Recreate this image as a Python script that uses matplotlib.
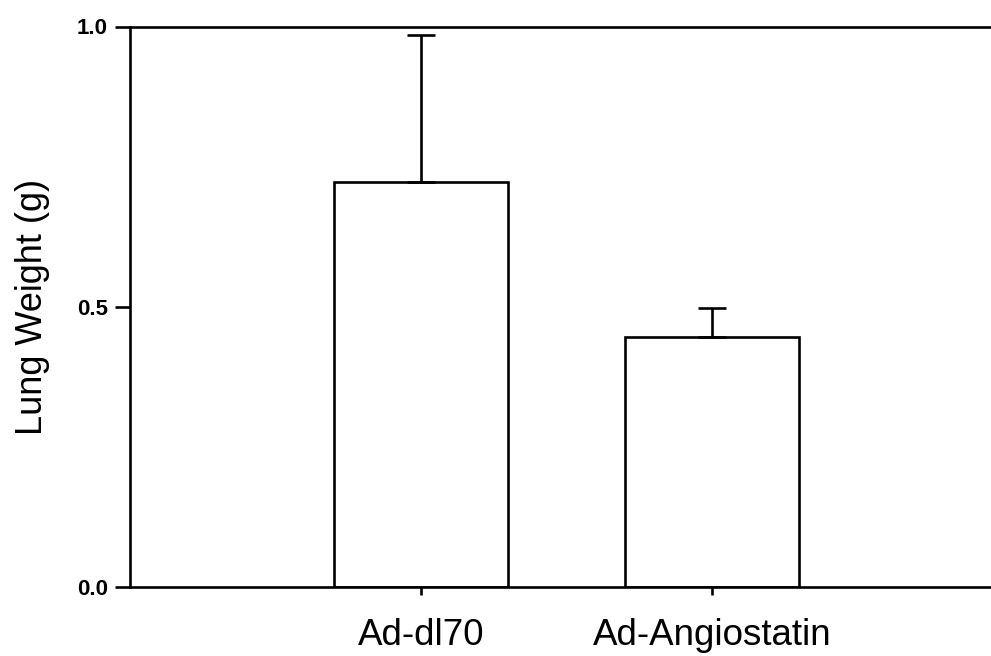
import matplotlib
matplotlib.use("Agg")
import matplotlib.pyplot as plt

categories = ["Ad-dl70", "Ad-Angiostatin"]
means = [0.722, 0.446]
errors = [0.263, 0.052]
yticks = [0.0, 0.5, 1.0]
ytick_labels = ["0.0", "0.5", "1.0"]

plt.rcParams['font.family'] = ['Liberation Sans', 'DejaVu Sans']

W, H = 991, 656
fig = plt.figure(figsize=(W / 100, H / 100), dpi=100)
# axes in pixel coords: left 130, right 1003 (beyond the figure), bottom 587, top 26.5
ax = fig.add_axes([130 / W, (H - 587) / H, (1003 - 130) / W, (587 - 26.5) / H])

x = [1, 2]
ax.bar(x, means, width=0.6, color="white", edgecolor="black", linewidth=1.9, zorder=2)
ax.errorbar(x, means, yerr=[[0, 0], errors], fmt="none", ecolor="black",
            elinewidth=1.9, capsize=10, capthick=1.9, zorder=3)

ax.set_xlim(0, 3)
ax.set_ylim(0, 1.0)
ax.set_xticks(x)
ax.set_xticklabels(categories, fontsize=26.5)
ax.set_yticks(yticks)
ax.set_yticklabels(ytick_labels, fontsize=16, fontweight="bold")
ax.set_ylabel("Lung Weight (g)", fontsize=26, labelpad=19)

for s in ["left", "bottom", "top"]:
    ax.spines[s].set_linewidth(1.9)
ax.spines["right"].set_visible(False)
ax.tick_params(axis="y", direction="out", length=11, width=1.9, pad=5)
ax.tick_params(axis="x", direction="out", length=6, width=1.9, pad=16)

fig.savefig("out.png", dpi=100)
